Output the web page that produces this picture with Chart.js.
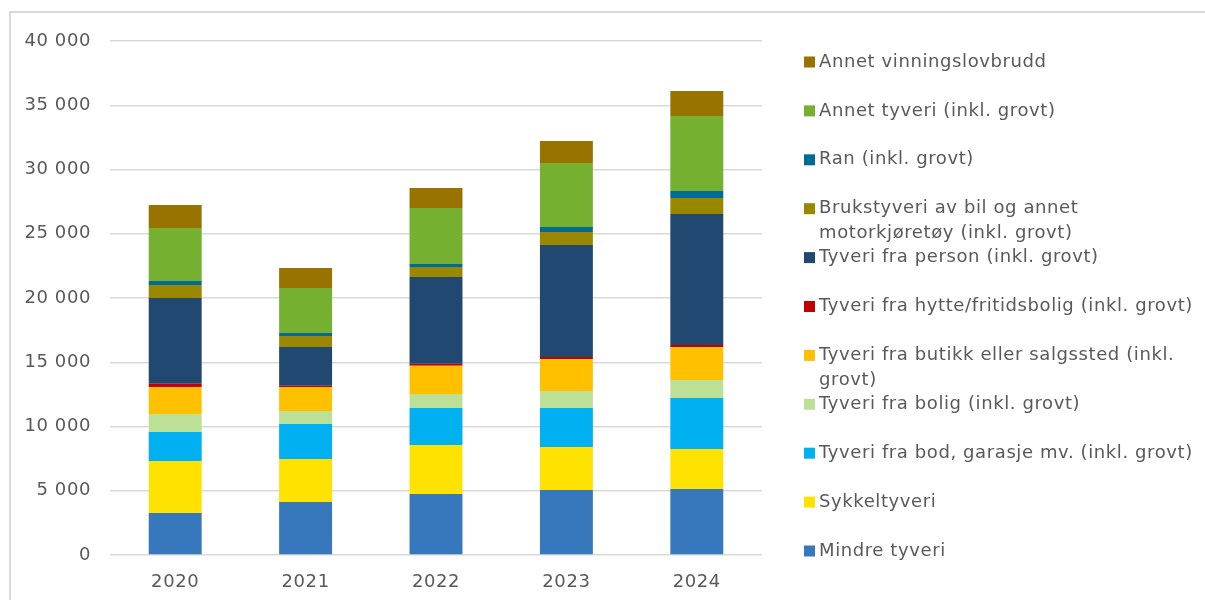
<!DOCTYPE html>
<html>
<head>
<meta charset="utf-8">
<script src="https://cdn.jsdelivr.net/npm/chart.js@4.4.1/dist/chart.umd.min.js"></script>
<style>
  html, body { margin: 0; padding: 0; background: #fff; overflow: hidden; }
</style>
</head>
<body>
<canvas id="myBarChart" width="1205" height="600"></canvas>
<script>
// Years on the x axis
const years = ['2020', '2021', '2022', '2023', '2024'];

// Series, bottom of the stack first
const mindreTyveri      = [3270, 4125, 4750, 5060, 5140];
const sykkeltyveri      = [4045, 3345, 3810, 3345, 3110];
const tyveriBod         = [2255, 2725, 2880, 3035, 3970];
const tyveriBolig       = [1400, 1010, 1090, 1325, 1400];
const tyveriButikk      = [2100, 1870, 2200, 2490, 2570];
const tyveriHytte       = [255, 100, 155, 155, 155];
const tyveriPerson      = [6670, 3010, 6745, 8715, 10195];
const brukstyveri       = [1010, 855, 780, 1010, 1245];
const ran               = [310, 235, 235, 390, 545];
const annetTyveri       = [4125, 3500, 4355, 4980, 5835];
const annetVinning      = [1790, 1555, 1555, 1710, 1945];

const seriesNames = [
    'Mindre tyveri',
    'Sykkeltyveri',
    'Tyveri fra bod, garasje mv. (inkl. grovt)',
    'Tyveri fra bolig (inkl. grovt)',
    'Tyveri fra butikk eller salgssted (inkl. grovt)',
    'Tyveri fra hytte/fritidsbolig (inkl. grovt)',
    'Tyveri fra person (inkl. grovt)',
    'Brukstyveri av bil og annet motorkjøretøy (inkl. grovt)',
    'Ran (inkl. grovt)',
    'Annet tyveri (inkl. grovt)',
    'Annet vinningslovbrudd'
];
const seriesValues = [mindreTyveri, sykkeltyveri, tyveriBod, tyveriBolig, tyveriButikk,
    tyveriHytte, tyveriPerson, brukstyveri, ran, annetTyveri, annetVinning];
const seriesColors = ['#3777bc', '#ffe200', '#00b0f0', '#bde097', '#ffc000',
    '#c00000', '#214870', '#9a8700', '#006c96', '#75b031', '#997300'];

const yTicks = [0, 5000, 10000, 15000, 20000, 25000, 30000, 35000, 40000];

const FONT = 'DejaVu Sans, Verdana, sans-serif';
const TEXT = '#595959';
const SPACING = '0.6px';

const fmt = v => String(v).replace(/\B(?=(\d{3})+(?!\d))/g, ' ');

// grey frame round the chart object + wider letter spacing (Verdana look)
const frame = {
    id: 'frame',
    beforeDraw(chart) {
        const ctx = chart.ctx;
        ctx.save();
        ctx.strokeStyle = '#d9d9d9';
        ctx.lineWidth = 2;
        ctx.beginPath();
        ctx.moveTo(10, 620);
        ctx.lineTo(10, 12);
        ctx.lineTo(1230, 12);
        ctx.stroke();
        ctx.restore();
        ctx.letterSpacing = SPACING;
    }
};

// legend on the right, drawn by hand so wrapped entries look like the Excel one
const sideLegend = {
    id: 'sideLegend',
    afterDraw(chart) {
        const ctx = chart.ctx;
        ctx.save();
        ctx.letterSpacing = SPACING;
        ctx.font = '18px ' + FONT;
        ctx.textBaseline = 'middle';
        const x0 = 804, tx = 819, maxW = 382, top = 62, step = 48.9, lh = 24.5;
        const n = seriesNames.length;
        for (let k = 0; k < n; k++) {
            const i = n - 1 - k;
            const y = top + k * step;
            ctx.fillStyle = seriesColors[i];
            ctx.fillRect(x0, y - 5.5, 11, 11);
            ctx.fillStyle = TEXT;
            // wrap the label by width
            const words = seriesNames[i].split(' ');
            let lines = [], cur = '';
            words.forEach(w => {
                const t = cur ? cur + ' ' + w : w;
                if (ctx.measureText(t).width > maxW && cur) { lines.push(cur); cur = w; }
                else cur = t;
            });
            lines.push(cur);
            lines.forEach((l, j) => ctx.fillText(l, tx, y + j * lh));
        }
        ctx.restore();
    }
};

const ctx = document.getElementById('myBarChart').getContext('2d');
const myBarChart = new Chart(ctx, {
    type: 'bar',
    data: {
        labels: years,
        datasets: seriesNames.map((name, i) => ({
            label: name,
            data: seriesValues[i],
            backgroundColor: seriesColors[i],
            borderWidth: 0,
            categoryPercentage: 1,
            barPercentage: 0.406
        }))
    },
    options: {
        responsive: false,
        animation: false,
        layout: { padding: { left: 0, top: 41, right: 443, bottom: 0 } },
        plugins: {
            legend: { display: false },
            tooltip: { enabled: false }
        },
        scales: {
            x: {
                stacked: true,
                grid: { display: false },
                border: { display: false },
                ticks: { color: TEXT, font: { family: FONT, size: 18 }, padding: 9 },
                afterFit(s) { s.height = 45; }
            },
            y: {
                stacked: true,
                min: 0,
                max: 40000,
                afterBuildTicks(s) { s.ticks = yTicks.map(v => ({ value: v })); },
                grid: { color: '#d9d9d9', lineWidth: 1.5, drawTicks: false },
                border: { display: false },
                ticks: {
                    color: TEXT,
                    font: { family: FONT, size: 18 },
                    padding: 19,
                    callback: v => fmt(v)
                },
                afterFit(s) { s.width = 110; }
            }
        }
    },
    plugins: [frame, sideLegend]
});
</script>
</body>
</html>
